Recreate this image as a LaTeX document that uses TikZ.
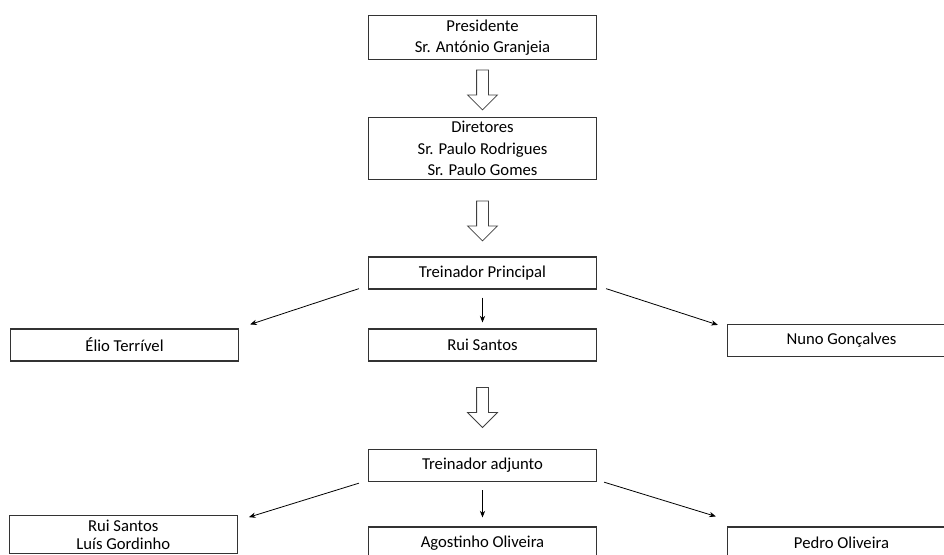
\documentclass[tikz,border=0pt]{standalone}
\usepackage{fontspec}
\setmainfont{Carlito}
\usetikzlibrary{positioning,shapes.arrows,arrows.meta}

\begin{document}
\begin{tikzpicture}
[every node/.style={font=\fontsize{12.5}{16}\selectfont},
 box/.style={rectangle,draw=black!80,line width=0.9pt,minimum width=171pt,minimum height=24pt,inner ysep=3pt,align=center},
 bigarrow/.style={single arrow,draw=black!75,line width=0.6pt,rotate=-90,minimum height=30pt,minimum width=21.75pt,single arrow head extend=6.75pt,single arrow tip angle=90,inner xsep=0pt,inner ysep=4.125pt},
 link/.style={-{Stealth[length=5pt,width=4pt]},line width=0.6pt}]
% page is the reference frame, the lowest row runs off it
\clip (-361.875pt,28.125pt) rectangle (346.125pt,-387.375pt);

\node[box] (pres)                                           {Presidente\\Sr. António Granjeia};
\node[bigarrow] (a1) [on grid,below=37.1pt of pres]         {};
\node[box] (dir)   [on grid,below=83.25pt of pres]          {Diretores\\Sr. Paulo Rodrigues\\Sr. Paulo Gomes};
\node[bigarrow] (a2) [on grid,below=52.1pt of dir]          {};
\node[box] (tp)    [on grid,below=93.4pt of dir]            {Treinador Principal};
\node[box] (rui)   [on grid,below=54pt of tp]               {Rui Santos};
\node[box] (elio)  [on grid,left=268.5pt of rui]            {Élio Terrível};
\node[box] (nuno)  [on grid,below right=50.6pt and 269.25pt of tp] {Nuno Gonçalves};
\node[bigarrow] (a3) [on grid,below=44.6pt of rui]          {};
\node[box] (ta)    [on grid,below=90.4pt of rui]            {Treinador adjunto};
\node[box] (ag)    [on grid,below=58.1pt of ta]             {Agostinho Oliveira};
\node[box] (rl)    [below left=24.75pt and 97.5pt of ta,font=\fontsize{12.5}{13.5}\selectfont] {Rui Santos\\Luís Gordinho};
\node[box] (pedro) [on grid,right=269.25pt of ag]           {Pedro Oliveira};

\draw[link] ([xshift=-6.75pt,yshift=0.75pt]tp.south west) -- ([xshift=8.25pt,yshift=3pt]elio.north east);
\draw[link,shorten <=6pt,shorten >=4.5pt] (tp) -- (rui);
\draw[link] ([xshift=6.75pt,yshift=0.75pt]tp.south east) -- ([xshift=-6.75pt,yshift=-0.75pt]nuno.north west);

\draw[link] ([xshift=-6.75pt,yshift=-0.75pt]ta.south west) -- ([xshift=8.25pt,yshift=-1.5pt]rl.north east);
\draw[link,shorten <=6pt,shorten >=6.75pt] (ta) -- (ag);
\draw[link] ([xshift=5.25pt]ta.south east) -- ([xshift=-8.25pt,yshift=7.5pt]pedro.north west);
\end{tikzpicture}
\end{document}
